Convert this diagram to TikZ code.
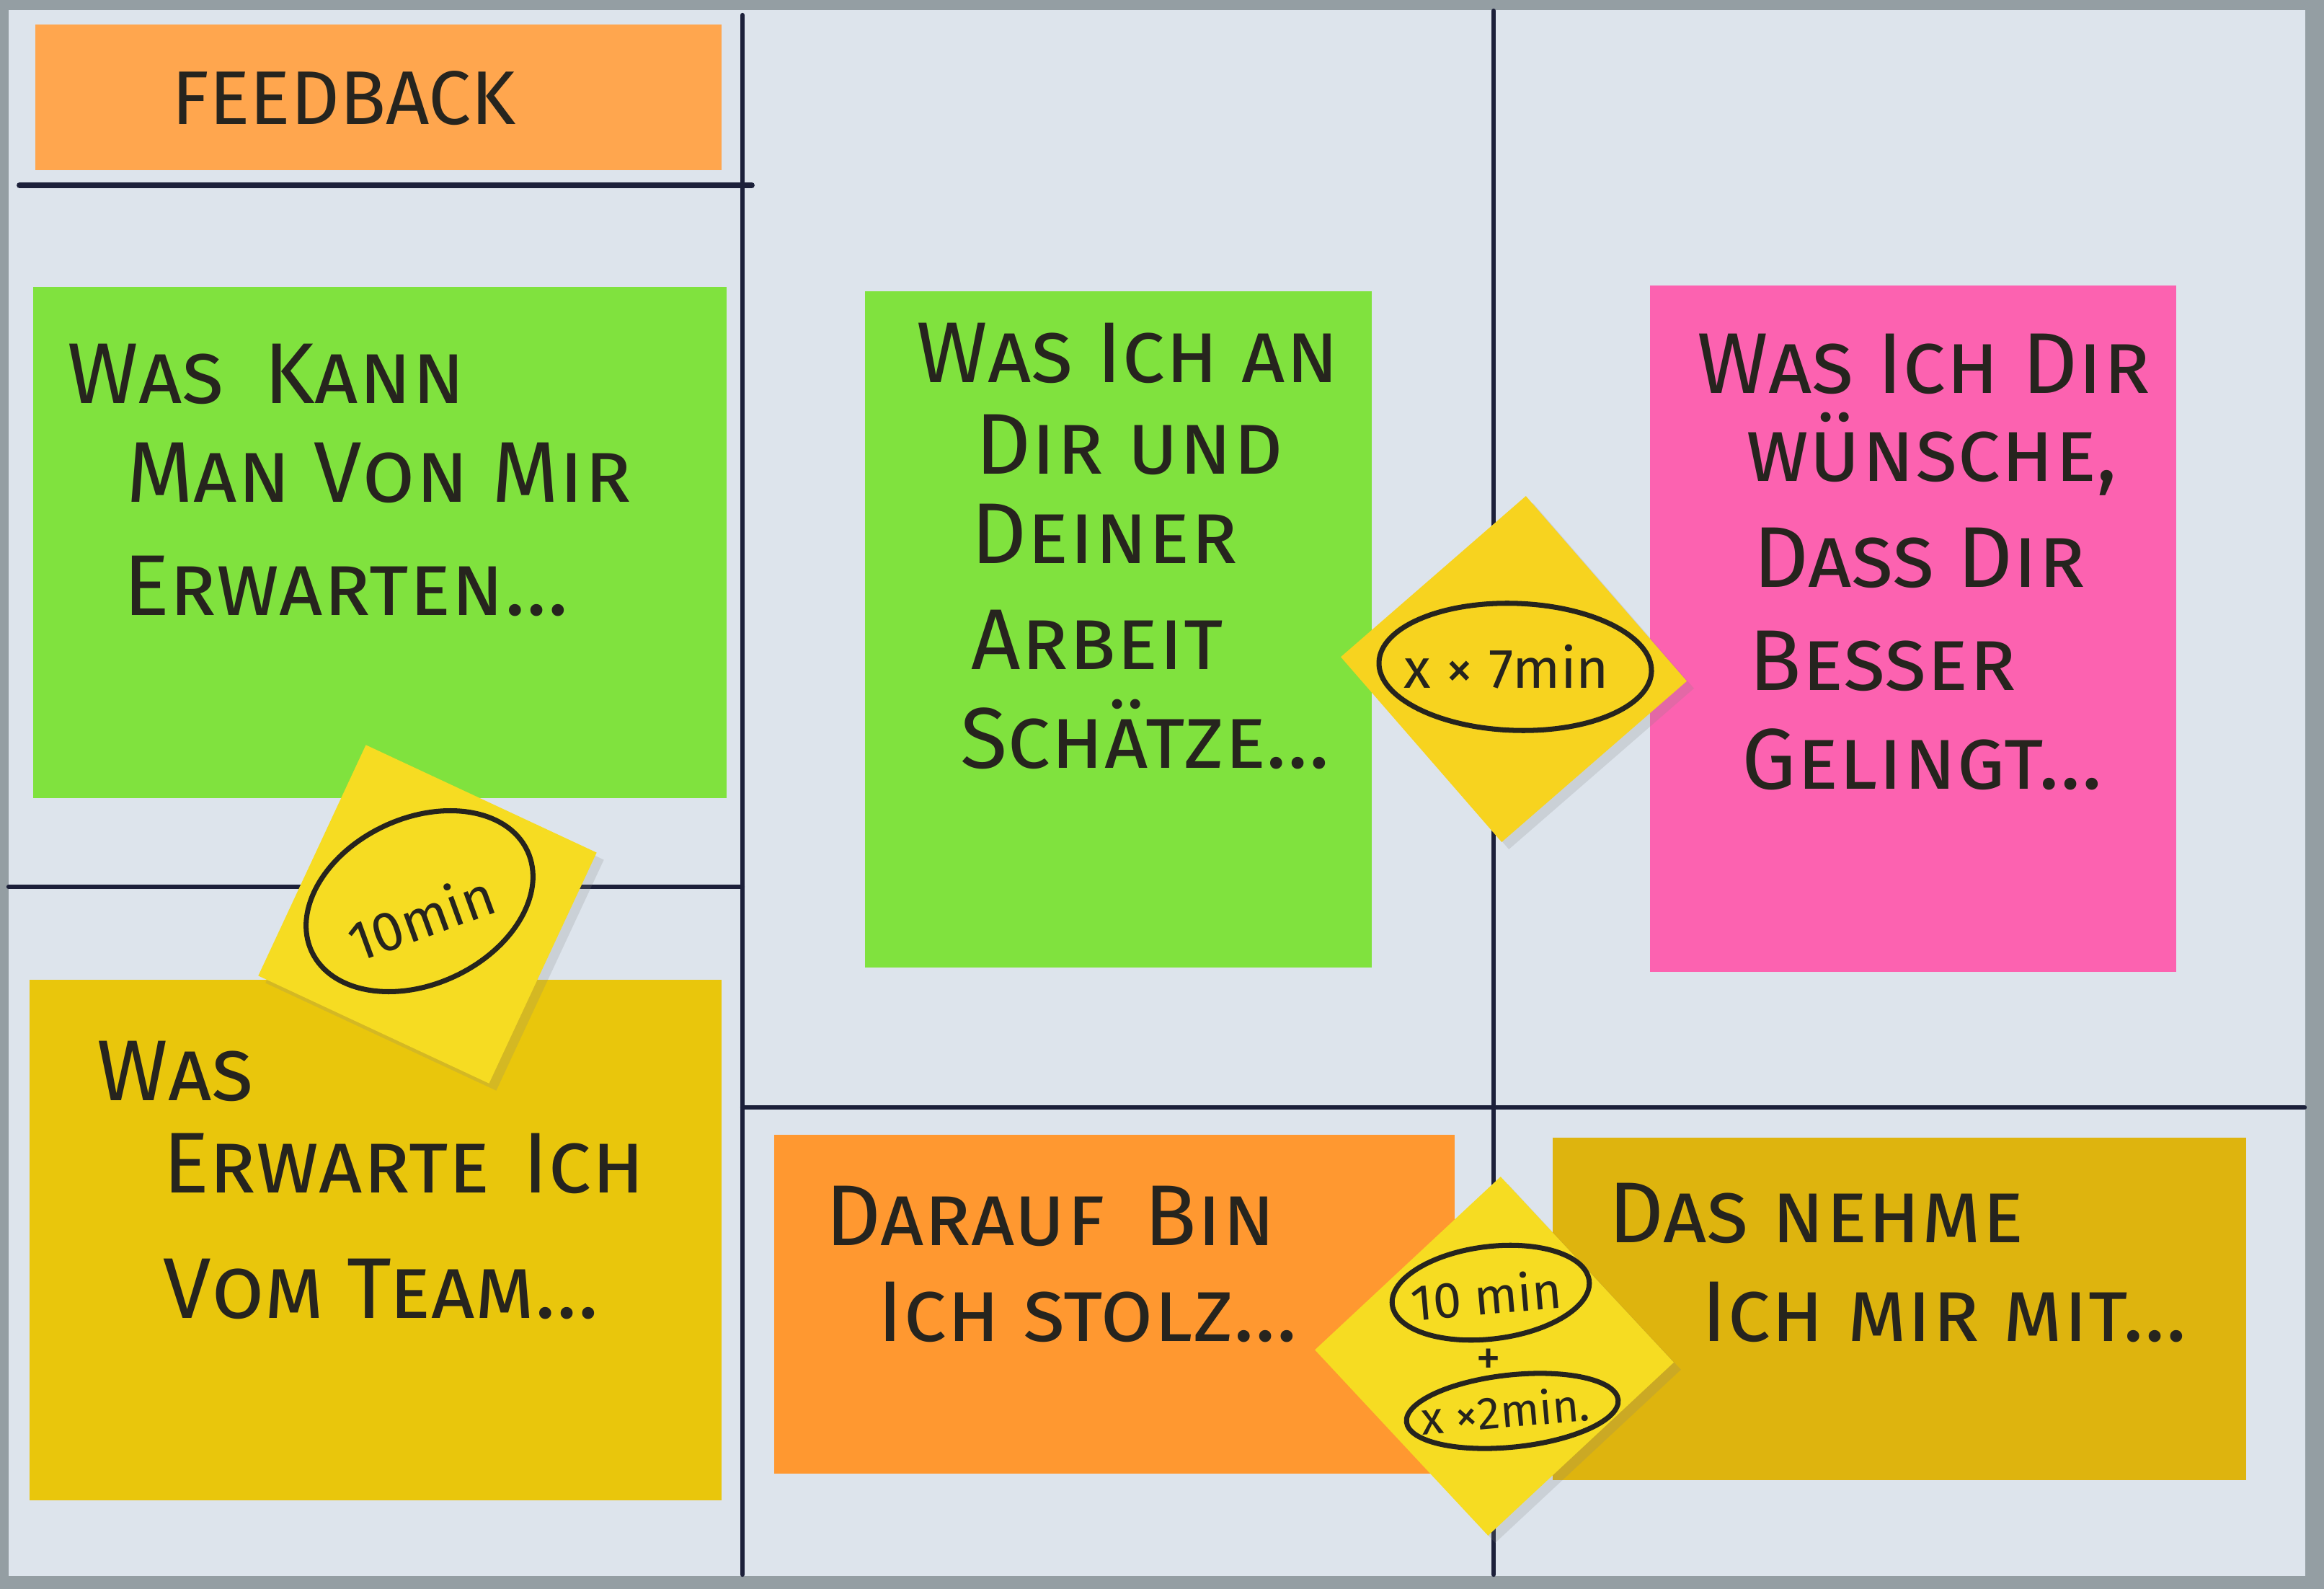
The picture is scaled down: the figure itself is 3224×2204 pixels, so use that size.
\documentclass[tikz,border=0pt]{standalone}
\usepackage{fontspec}
\setmainfont{Fira Sans}
\usetikzlibrary{shapes.geometric, shadows}

\definecolor{tablegray}{RGB}{148,158,163}
\definecolor{paper}{RGB}{221,228,236}
\definecolor{gridline}{RGB}{28,32,58}
\definecolor{notegreen}{RGB}{128,226,62}
\definecolor{notepink}{RGB}{252,98,176}
\definecolor{noteorange}{RGB}{255,152,48}
\definecolor{notepeach}{RGB}{255,166,78}
\definecolor{notegold}{RGB}{233,198,12}
\definecolor{notedarkgold}{RGB}{222,180,14}
\definecolor{stickyyellow}{RGB}{246,220,34}
\definecolor{ink}{RGB}{38,36,30}

\begin{document}
\begin{tikzpicture}[
    x=0.01cm, y=-0.01cm, every node/.style={inner sep=0pt},
    note/.style={rectangle, anchor=north west},
    hand/.style={anchor=north west, align=left, text=ink, font=\fontsize{34}{39}\selectfont\scshape},
    sticker/.style={rectangle, fill=stickyyellow, drop shadow={shadow xshift=0.1cm, shadow yshift=-0.1cm, opacity=0.2}},
    ring/.style={ellipse, draw=ink, line width=2pt},
    small/.style={text=ink, font=\fontsize{22}{26}\selectfont},
    marker/.style={draw=gridline, line width=1.8pt, line cap=round}
]
\useasboundingbox (0,0) rectangle (3224,2204);
% Table and flip chart sheet
\fill[tablegray] (0,0) rectangle (3224,2204);
\fill[paper] (12,14) rectangle (3198,2186);

% Marker lines
\draw[marker, line width=2.2pt] (27,257) -- (1043,257);
\draw[marker] (1030,21) -- (1030,2184);
\draw[marker] (2072,15) -- (2072,2184);
\draw[marker] (12,1230) -- (1030,1230);
\draw[marker] (1030,1536) -- (3197,1536);

% Define notes
\node (feedback_note) [note, fill=notepeach, minimum width=9.52cm, minimum height=2.02cm] at (48,33) {};
\node (expect_me_note) [note, fill=notegreen, minimum width=9.62cm, minimum height=7.09cm] at (45,397) {};
\node (expect_team_note) [note, fill=notegold, minimum width=9.6cm, minimum height=7.22cm] at (40,1358) {};
\node (appreciate_note) [note, fill=notegreen, minimum width=7.03cm, minimum height=9.38cm] at (1199,403) {};
\node (wish_note) [note, fill=notepink, minimum width=7.3cm, minimum height=9.52cm] at (2288,395) {};
\node (proud_note) [note, fill=noteorange, minimum width=9.44cm, minimum height=4.7cm] at (1073,1573) {};
\node (takeaway_note) [note, fill=notedarkgold, minimum width=9.62cm, minimum height=4.75cm] at (2153,1577) {};

% Texts on the notes
\node (feedback_text) [anchor=north west, text=ink, font=\fontsize{30}{36}\selectfont] at (238,98) {FEEDBACK};
\node (expect_me_text) [hand] at (93,476) {Was\hspace{0.55cm}Kann\\\hspace*{0.82cm}Man Von Mir\\[0.2cm]\hspace*{0.78cm}Erwarten\ldots};
\node (expect_team_text) [hand] at (134,1443) {Was\\[-0.09cm]\hspace*{0.92cm}Erwarte\hspace{0.45cm}Ich\\[0.37cm]\hspace*{0.92cm}Vom Team\ldots};
\node (appreciate_text) [hand] at (1271,447) {Was Ich an\\[-0.1cm]\hspace*{0.82cm}Dir und\\[-0.13cm]\hspace*{0.76cm}Deiner\\[0.1cm]\hspace*{0.76cm}Arbeit\\\hspace*{0.61cm}Schätze\ldots};
\node (wish_text) [hand] at (2354,462) {Was Ich Dir\\[-0.15cm]\hspace*{0.68cm}wünsche,\\[0.1cm]\hspace*{0.78cm}Dass Dir\\[0.06cm]\hspace*{0.72cm}Besser\\\hspace*{0.62cm}Gelingt\ldots};
\node (proud_text) [hand] at (1145,1644) {Darauf\hspace{0.55cm}Bin\\[-0.04cm]\hspace*{0.72cm}Ich stolz\ldots};
\node (takeaway_text) [hand] at (2231,1640) {Das nehme\\\hspace*{1.29cm}Ich mir mit\ldots};

% Time stickers
\node (sticker_ten) [sticker, minimum size=3.53cm, rotate=-25] at (593,1268) {};
\node (ring_ten) [ring, minimum width=3.3cm, minimum height=2.3cm, rotate=25] at (582,1250) {};
\node (time_ten) [small, rotate=20] at (584,1272) {10min};

\node (sticker_seven) [sticker, fill=stickyyellow!90!orange, minimum size=3.4cm, rotate=41] at (2100,928) {};
\node (ring_seven) [ring, minimum width=3.78cm, minimum height=1.76cm, rotate=-2] at (2102,925) {};
\node (time_seven) [small] at (2090,925) {x × 7min};

\node (sticker_total) [sticker, minimum size=3.52cm, rotate=43] at (2073,1881) {};
\node (ring_base) [ring, minimum width=2.75cm, minimum height=1.28cm, rotate=7] at (2068,1793) {};
\node (time_base) [small, font=\fontsize{20}{24}\selectfont, rotate=5] at (2062,1796) {10 min};
\node (time_plus) [small, font=\fontsize{20}{24}\selectfont] at (2065,1889) {+};
\node (ring_extra) [ring, minimum width=2.95cm, minimum height=1.0cm, rotate=6] at (2098,1957) {};
\node (time_extra) [small, font=\fontsize{18}{22}\selectfont, rotate=5] at (2088,1956) {x ×2min.};
\end{tikzpicture}
\end{document}
